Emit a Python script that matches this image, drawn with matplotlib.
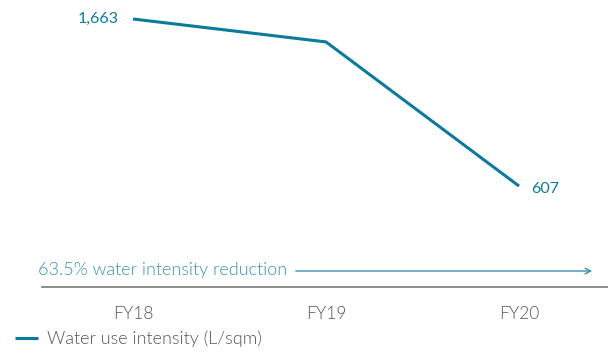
"""Water use intensity line chart, FY18-FY20."""

import matplotlib.pyplot as plt

years = ["FY18", "FY19", "FY20"]
intensity = [1663, 1518, 607]
value_labels = ["1,663", "", "607"]
series_name = "Water use intensity (L/sqm)"
reduction_note = "63.5% water intensity reduction"

LINE_COLOR = "#0b7b9b"
NOTE_COLOR = "#3a93ad"
GREY = "#555555"

plt.rcParams["font.family"] = ["Lato", "DejaVu Sans"]

fig = plt.figure(figsize=(6.08, 3.54), dpi=100)
ax = fig.add_axes([42 / 608, 1 - 287 / 354, 566 / 608, 287 / 354])

x = list(range(len(years)))
line, = ax.plot(x, intensity, color=LINE_COLOR, linewidth=2.2, solid_capstyle="butt",
                label=series_name)

ax.set_xlim(-0.4715, 2.461)
ax.set_ylim(-31, 1783)

# value labels at the ends of the line
ax.annotate(value_labels[0], (x[0], intensity[0]), xytext=(-10, 0), textcoords="offset points",
            ha="right", va="center", color=LINE_COLOR, fontsize=11.5)
ax.annotate(value_labels[2], (x[2], intensity[2]), xytext=(9, -2), textcoords="offset points",
            ha="left", va="center", color=LINE_COLOR, fontsize=11.5)

# reduction arrow
ax.text(-0.007, 0.059, reduction_note, transform=ax.transAxes, ha="left", va="center",
        color=NOTE_COLOR, fontsize=13, fontweight=300)
ax.annotate("", xy=(0.977, 0.0557), xytext=(0.4435, 0.0557), xycoords="axes fraction",
            arrowprops=dict(arrowstyle="->", color=NOTE_COLOR, lw=1.0))

for side in ["top", "right", "left"]:
    ax.spines[side].set_visible(False)
ax.spines["bottom"].set_color("#7a7a7a")
ax.spines["bottom"].set_linewidth(1.2)
ax.set_yticks([])
ax.set_xticks(x)
ax.set_xticklabels(years, color=GREY, fontsize=12.5, fontweight=300)
ax.tick_params(axis="x", length=0, pad=14)

fig.legend(handles=[line], loc="center left", bbox_to_anchor=(15 / 608, 1 - 339 / 354),
           frameon=False, labelcolor=GREY, handlelength=1.28, handletextpad=0.5,
           borderaxespad=0, borderpad=0, prop={"weight": 300, "size": 13})

fig.savefig("out.png", dpi=100)
